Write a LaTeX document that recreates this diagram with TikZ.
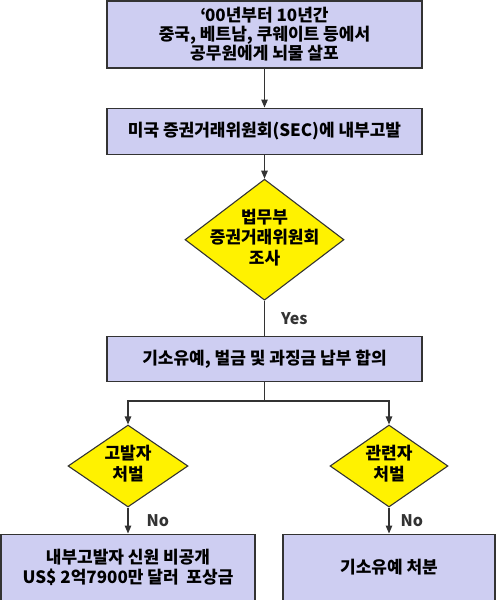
\documentclass[tikz,border=0pt]{standalone}
\usepackage{fontspec}
\setmainfont{Noto Sans CJK KR}
\usetikzlibrary{arrows.meta, positioning, shapes.geometric}
\definecolor{boxfill}{RGB}{206,206,242}
\tikzset{
  stepbox/.style = {draw=black!80, line width=1.1pt, fill=boxfill, align=center,
                    font=\bfseries\fontsize{17}{20}\selectfont, inner sep=0pt},
  check/.style   = {draw=black!80, line width=1.1pt, diamond, fill=yellow, inner sep=0pt,
                    font=\bfseries\fontsize{17}{20}\selectfont},
  flow/.style    = {-{Triangle[length=8pt, width=6.5pt]}, line width=1.1pt, black!80},
  link/.style    = {line width=1.1pt, black!80},
  tag/.style     = {font=\bfseries\fontsize{16}{19}\selectfont, inner sep=0pt},
}
\newcommand{\dtext}[1]{\makebox[0pt]{\begin{tabular}{@{}c@{}}#1\end{tabular}}}

\begin{document}
\begin{tikzpicture}[x=1pt, y=-1pt]
\useasboundingbox (0,0) rectangle (496,600);

\node[stepbox, minimum width=315pt, minimum height=67pt,
      font=\bfseries\fontsize{17}{19}\selectfont] (bribe) at (264.5,34.5)
  {‘\kern-1.2pt 00년부터 10년간\\중국, 베트남, 쿠웨이트 등에서\\공무원에게 뇌물 살포};
\node[stepbox, minimum width=315pt, minimum height=46pt, below=39pt of bribe] (report)
  {미국 증권거래위원회(SEC)에 내부고발};
\node[check, minimum width=159pt, minimum height=121pt, below=24pt of report] (probe)
  {\dtext{법무부\\증권거래위원회\\조사}};
\node[stepbox, minimum width=315pt, minimum height=45pt, below=35pt of probe] (deal)
  {기소유예, 벌금 및 과징금 납부 합의};
\coordinate (split) at (264.5,401);

\node[check, minimum width=120pt, minimum height=82pt] (blame) at (128,466)
  {\dtext{고발자\\처벌}};
\node[check, minimum width=118pt, minimum height=82pt] (other) at (389,466)
  {\dtext{관련자\\처벌}};
\node[stepbox, minimum width=254pt, minimum height=66pt, below=26pt of blame] (reward)
  {내부고발자 신원 비공개\\US\$ 2억7900만 달러~~포상금};
\node[stepbox, minimum width=212pt, minimum height=66pt, below=26pt of other] (defer)
  {기소유예 처분};

\foreach \a/\b in {bribe/report, report/probe}
  \draw[flow] (\a) -- (\b);
\draw[link] (probe) -- node[tag, right=16pt] {Yes} (deal);
\draw[link] (deal) -- (split);
\foreach \d in {blame, other}
  \draw[flow] (split) -| (\d);
\draw[flow] (blame) -- node[tag, right=18pt] {No} (reward);
\draw[flow] (other) -- node[tag, right=11pt] {No} (defer);

\end{tikzpicture}
\end{document}
